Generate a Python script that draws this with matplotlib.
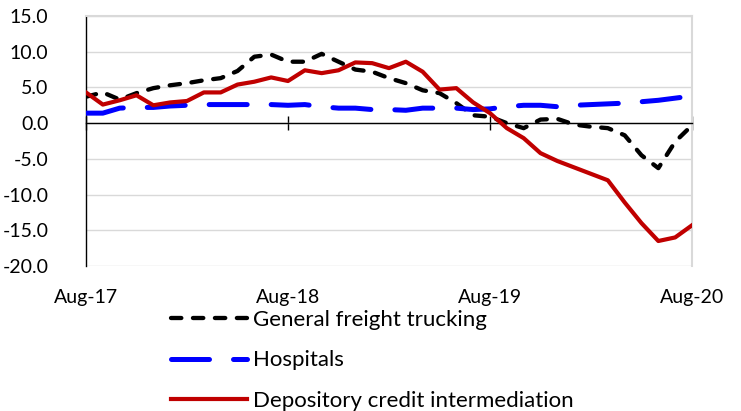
import matplotlib.pyplot as plt
import numpy as np

# monthly percent change, Aug-17 .. Aug-20
months = np.arange(37)
tick_pos = [0, 12, 24, 36]
tick_labels = ["Aug-17", "Aug-18", "Aug-19", "Aug-20"]

trucking = [3.7, 4.3, 3.3, 4.2, 4.9, 5.3, 5.6, 6.0, 6.3, 7.3, 9.3, 9.6, 8.6,
            8.6, 9.7, 8.6, 7.5, 7.2, 6.3, 5.6, 4.6, 4.2, 2.8, 1.1, 0.9, 0.0,
            -0.7, 0.5, 0.6, -0.2, -0.5, -0.7, -1.7, -4.5, -6.3, -2.6, -0.3]
hospitals = [1.4, 1.4, 2.1, 2.2, 2.2, 2.4, 2.5, 2.6, 2.6, 2.6, 2.6, 2.6, 2.5,
             2.6, 2.3, 2.1, 2.1, 1.9, 1.9, 1.8, 2.1, 2.1, 2.1, 1.9, 2.0, 2.3,
             2.5, 2.5, 2.3, 2.5, 2.6, 2.7, 2.8, 3.0, 3.2, 3.5, 3.8]
depository = [4.3, 2.6, 3.2, 3.9, 2.5, 2.9, 3.1, 4.3, 4.3, 5.4, 5.8, 6.4, 5.9,
              7.4, 7.0, 7.4, 8.5, 8.4, 7.7, 8.6, 7.2, 4.7, 4.9, 2.9, 1.4, -0.7,
              -2.1, -4.2, -5.3, -6.2, -7.1, -8.0, -11.1, -14.0, -16.5, -16.0, -14.3]

plt.rcParams['font.family'] = ['Lato', 'DejaVu Sans']

fig = plt.figure(figsize=(7.41, 4.11), dpi=100)
ax = fig.add_axes([86 / 741, 1 - 266 / 411, 606 / 741, 250 / 411])

l1, = ax.plot(months, trucking, color='black', lw=3.1, dash_capstyle='round',
              label='General freight trucking', zorder=3)
l1.set_dashes([2.4, 2.7])
l2, = ax.plot(months, hospitals, color='#0000ff', lw=3.6, dash_capstyle='round',
              label='Hospitals', zorder=4)
l2.set_dashes([7.6, 4.8])
l3, = ax.plot(months, depository, color='#c00000', lw=3.0,
              label='Depository credit intermediation', zorder=5)

ax.set_xlim(0, 36)
ax.set_ylim(-20, 15)
ax.set_yticks(np.arange(-20, 16, 5))
ax.set_yticklabels([f"{v:.1f}" for v in np.arange(-20, 16, 5)], fontsize=14)
ax.tick_params(axis='y', length=0, pad=27)
ax.yaxis.grid(True, color='#d9d9d9', lw=1)
ax.set_axisbelow(True)

# category axis crosses at zero, labels sit under the plot
ax.spines['bottom'].set_position(('data', 0))
ax.spines['bottom'].set_color('black')
ax.spines['bottom'].set_linewidth(1)
ax.set_xticks(tick_pos)
ax.set_xticklabels([])
ax.tick_params(axis='x', direction='inout', length=10, width=1)
label_y = -20 - 31 / 250 * 35
for p, lab in zip(tick_pos, tick_labels):
    ax.text(p, label_y, lab, ha='center', va='center', fontsize=14, clip_on=False)

ax.spines['left'].set_color('black')
ax.spines['left'].set_linewidth(1)
for s in ('top', 'right'):
    ax.spines[s].set_color('#d9d9d9')
    ax.spines[s].set_linewidth(1.5)

fig.legend(handles=[l1, l2, l3], loc='upper left',
           bbox_to_anchor=(171 / 741, 1 - 310 / 411), frameon=False,
           fontsize=16, handlelength=3.4, handletextpad=0.28, labelspacing=0.92,
           borderaxespad=0, borderpad=0)

fig.savefig('out.png', dpi=100)
